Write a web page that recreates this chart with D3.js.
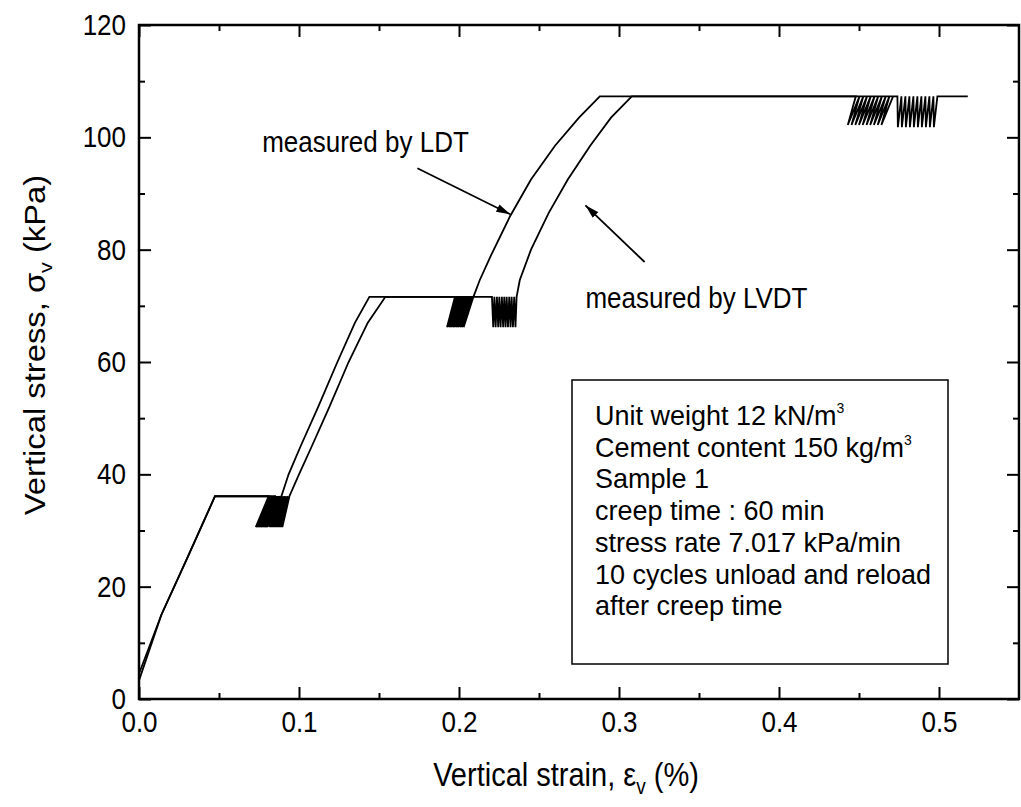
<!DOCTYPE html>
<html>
<head>
<meta charset="utf-8">
<script src="https://cdn.jsdelivr.net/npm/d3@7/dist/d3.min.js"></script>
<style>
  html, body { margin: 0; padding: 0; background: #fff; }
  svg { display: block; }
  text { font-family: "Liberation Sans", Arial, sans-serif; fill: #000; }
</style>
</head>
<body>
<svg id="chart" width="1021" height="807"></svg>
<script>
// Creep stress held at each stage and the stress reached when unloading
const creepStress = [36.1, 71.6, 107.3];
const ldtUnloadStress = [30.6, 66.2, 102.2];
const lvdtUnloadStress = [30.6, 66.2, 101.8];

// LDT: loading ramps (strain %, stress kPa)
const ldtRamp0 = [[0, 3.3], [0.005, 7.5], [0.014, 15], [0.030, 25], [0.0475, 36.1]];
const ldtRamp1 = [[0.0935, 40], [0.101, 45], [0.112, 52], [0.124, 60], [0.135, 67], [0.144, 71.6]];
const ldtRamp2 = [[0.213, 74.6], [0.220, 79], [0.232, 86], [0.245, 92.5], [0.260, 98.5], [0.275, 103.5], [0.288, 107.3]];
// LDT: strain at the top and bottom of each unload-reload cycle
const ldtPeaks0 = [0.0810, 0.0818, 0.0826, 0.0834, 0.0842, 0.0850, 0.0858, 0.0866, 0.0874, 0.0882, 0.0890];
const ldtTroughs0 = [0.0730, 0.0738, 0.0746, 0.0754, 0.0762, 0.0770, 0.0778, 0.0786, 0.0794, 0.0802];
const ldtPeaks1 = [0.1975, 0.1987, 0.1998, 0.2010, 0.2021, 0.2033, 0.2044, 0.2056, 0.2067, 0.2079, 0.2090];
const ldtTroughs1 = [0.1925, 0.1937, 0.1948, 0.1960, 0.1971, 0.1983, 0.1994, 0.2006, 0.2017, 0.2029];
const ldtPeaks2 = [0.4480, 0.4503, 0.4527, 0.4550, 0.4573, 0.4597, 0.4620, 0.4643, 0.4667, 0.4690, 0.4713];
const ldtTroughs2 = [0.4430, 0.4453, 0.4477, 0.4500, 0.4523, 0.4547, 0.4570, 0.4593, 0.4617, 0.4640];

// LVDT: loading ramps
const lvdtRamp0 = [[0, 4.5], [0.006, 9], [0.014, 15], [0.030, 25], [0.0475, 36.1]];
const lvdtRamp1 = [[0.100, 40], [0.108, 45], [0.119, 52], [0.131, 60], [0.143, 67], [0.154, 71.6]];
const lvdtRamp2 = [[0.238, 74.6], [0.245, 80], [0.256, 86.5], [0.268, 92.5], [0.282, 98.5], [0.295, 103.5], [0.308, 107.3]];
const lvdtTail = [[0.518, 107.3]];
// LVDT: strain at the top and bottom of each unload-reload cycle
const lvdtPeaks0 = [0.0850, 0.0859, 0.0868, 0.0877, 0.0886, 0.0895, 0.0904, 0.0913, 0.0922, 0.0931, 0.0940];
const lvdtTroughs0 = [0.0815, 0.0824, 0.0833, 0.0842, 0.0851, 0.0860, 0.0869, 0.0878, 0.0887, 0.0896];
const lvdtPeaks1 = [0.2206, 0.2221, 0.2237, 0.2252, 0.2268, 0.2283, 0.2298, 0.2314, 0.2329, 0.2345, 0.2360];
const lvdtTroughs1 = [0.2214, 0.2229, 0.2245, 0.2260, 0.2276, 0.2291, 0.2306, 0.2322, 0.2337, 0.2353];
const lvdtPeaks2 = [0.4740, 0.4765, 0.4790, 0.4815, 0.4840, 0.4865, 0.4890, 0.4915, 0.4940, 0.4965, 0.4990];
const lvdtTroughs2 = [0.4743, 0.4768, 0.4793, 0.4818, 0.4843, 0.4868, 0.4893, 0.4918, 0.4943, 0.4968];

// Axis ticks
const xMajorTicks = [0.0, 0.1, 0.2, 0.3, 0.4, 0.5];
const xMinorTicks = [0.05, 0.15, 0.25, 0.35, 0.45];
const yMajorTicks = [0, 20, 40, 60, 80, 100, 120];
const yMinorTicks = [10, 30, 50, 70, 90, 110];

// Test conditions listed in the box
const infoLines = [
  ["Unit weight 12 kN/m", "3"],
  ["Cement content 150 kg/m", "3"],
  ["Sample 1", ""],
  ["creep time : 60 min", ""],
  ["stress rate 7.017 kPa/min", ""],
  ["10 cycles unload and reload", ""],
  ["after creep time", ""]
];

// Arrow annotations (strain %, stress kPa)
const ldtNote = { text: "measured by LDT", at: [0.077, 97.4], from: [0.174, 94.5], to: [0.232, 86.3] };
const lvdtNote = { text: "measured by LVDT", at: [0.279, 69.6], from: [0.316, 77.8], to: [0.279, 87.9] };

const svg = d3.select("#chart");
const plotLeft = 139, plotRight = 1019, plotTop = 25, plotBottom = 699;
// The printed lettering is a little taller than it is wide
const textStretch = 1.13;
const boxStretch = 1.05;
const x = d3.scaleLinear().domain([0, 0.55]).range([plotLeft, plotRight]);
const y = d3.scaleLinear().domain([0, 120]).range([plotBottom, plotTop]);

// Place a text element at (px, py) with a vertical stretch applied about its baseline
function placeText(px, py, size, k = textStretch) {
  return svg.append("text")
    .attr("transform", `translate(${px},${py}) scale(1,${k})`)
    .attr("font-size", size);
}

// Assemble a full test record: ramps, creep plateaus and unload-reload cycles
function buildPath(ramps, peaks, troughs, unload, tail) {
  const pts = [];
  ramps.forEach((ramp, s) => {
    ramp.forEach(p => pts.push(p));
    const pk = peaks[s], tr = troughs[s];
    for (let i = 0; i < tr.length; i++) {
      pts.push([pk[i], creepStress[s]]);
      pts.push([tr[i], unload[s]]);
    }
    pts.push([pk[pk.length - 1], creepStress[s]]);
  });
  tail.forEach(p => pts.push(p));
  return pts;
}

const ldtData = buildPath([ldtRamp0, ldtRamp1, ldtRamp2], [ldtPeaks0, ldtPeaks1, ldtPeaks2],
  [ldtTroughs0, ldtTroughs1, ldtTroughs2], ldtUnloadStress, []);
const lvdtData = buildPath([lvdtRamp0, lvdtRamp1, lvdtRamp2], [lvdtPeaks0, lvdtPeaks1, lvdtPeaks2],
  [lvdtTroughs0, lvdtTroughs1, lvdtTroughs2], lvdtUnloadStress, lvdtTail);

const line = d3.line().x(d => x(d[0])).y(d => y(d[1]));

[ldtData, lvdtData].forEach(data => {
  svg.append("path")
    .datum(data)
    .attr("d", line)
    .attr("fill", "none")
    .attr("stroke", "#000")
    .attr("stroke-width", 1.8)
    .attr("stroke-linejoin", "miter");
});

// Axes with inward ticks on all four sides
function addAxis(axisFn, scale, ticks, size, transform, labels, pad) {
  const ax = axisFn(scale).tickValues(ticks).tickSize(size).tickSizeOuter(0);
  if (labels) ax.tickPadding(pad).tickFormat(labels);
  else ax.tickFormat("");
  const g = svg.append("g").attr("transform", transform).call(ax);
  g.select(".domain").remove();
  g.selectAll(".tick line").attr("stroke", "#000").attr("stroke-width", 2);
  g.selectAll("text").attr("font-size", 26).attr("fill", "#000")
    .attr("font-family", "'Liberation Sans', Arial, sans-serif")
    .attr("transform", `scale(1,${textStretch})`);
  return g;
}
addAxis(d3.axisBottom, x, xMajorTicks, -12, `translate(0,${plotBottom})`, d3.format(".1f"), 11);
addAxis(d3.axisBottom, x, xMinorTicks, -6, `translate(0,${plotBottom})`, null);
addAxis(d3.axisTop, x, xMajorTicks, -12, `translate(0,${plotTop})`, null);
addAxis(d3.axisTop, x, xMinorTicks, -6, `translate(0,${plotTop})`, null);
addAxis(d3.axisLeft, y, yMajorTicks, -12, `translate(${plotLeft},0)`, d3.format("d"), 13);
addAxis(d3.axisLeft, y, yMinorTicks, -6, `translate(${plotLeft},0)`, null);
addAxis(d3.axisRight, y, yMajorTicks, -12, `translate(${plotRight},0)`, null);
addAxis(d3.axisRight, y, yMinorTicks, -6, `translate(${plotRight},0)`, null);

svg.append("rect")
  .attr("x", plotLeft).attr("y", plotTop)
  .attr("width", plotRight - plotLeft).attr("height", plotBottom - plotTop)
  .attr("fill", "none").attr("stroke", "#000").attr("stroke-width", 2.5);

// Axis titles
const xTitle = placeText(566, 786, 29).attr("text-anchor", "middle");
xTitle.append("tspan").text("Vertical strain, ε");
xTitle.append("tspan").attr("font-size", 19).attr("dy", 7).text("v");
xTitle.append("tspan").attr("dy", -7).text(" (%)");

const yTitle = svg.append("text")
  .attr("transform", `translate(45,345) scale(1,${textStretch}) rotate(-90)`)
  .attr("text-anchor", "middle").attr("font-size", 29);
yTitle.append("tspan").text("Vertical stress, σ");
yTitle.append("tspan").attr("font-size", 19).attr("dy", 7).text("v");
yTitle.append("tspan").attr("dy", -7).text(" (kPa)");

// Arrow annotations
const defs = svg.append("defs");
defs.append("marker")
  .attr("id", "arrowhead").attr("viewBox", "0 0 14 8")
  .attr("refX", 14).attr("refY", 4)
  .attr("markerWidth", 14).attr("markerHeight", 8)
  .attr("markerUnits", "userSpaceOnUse").attr("orient", "auto")
  .append("path").attr("d", "M0,0 L14,4 L0,8 Z").attr("fill", "#000");

[ldtNote, lvdtNote].forEach(n => {
  placeText(x(n.at[0]), y(n.at[1]), 26).text(n.text);
  svg.append("line")
    .attr("x1", x(n.from[0])).attr("y1", y(n.from[1]))
    .attr("x2", x(n.to[0])).attr("y2", y(n.to[1]))
    .attr("stroke", "#000").attr("stroke-width", 1.8)
    .attr("marker-end", "url(#arrowhead)");
});

// Test-condition box
svg.append("rect")
  .attr("x", 572).attr("y", 380).attr("width", 376).attr("height", 284)
  .attr("fill", "#fff").attr("stroke", "#000").attr("stroke-width", 1.5);
infoLines.forEach((l, i) => {
  const t = placeText(595, 425 + i * 31.7, 27, boxStretch);
  t.append("tspan").text(l[0]);
  if (l[1]) t.append("tspan").attr("font-size", 14).attr("dy", -11).text(l[1]);
});
</script>
</body>
</html>
